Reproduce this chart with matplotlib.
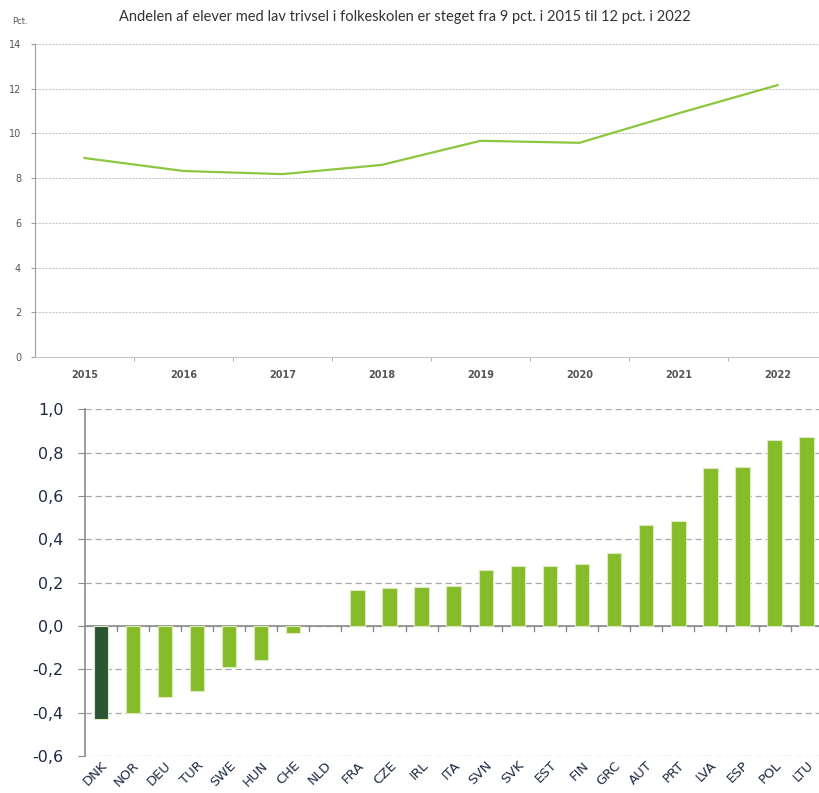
import matplotlib
matplotlib.use("Agg")
import matplotlib.pyplot as plt
from matplotlib.ticker import FuncFormatter

years = ["2015", "2016", "2017", "2018", "2019", "2020", "2021", "2022"]
share_low_wellbeing = [8.9, 8.32, 8.18, 8.59, 9.67, 9.58, 10.9, 12.16]

countries = ["DNK", "NOR", "DEU", "TUR", "SWE", "HUN", "CHE", "NLD", "FRA", "CZE",
             "IRL", "ITA", "SVN", "SVK", "EST", "FIN", "GRC", "AUT", "PRT", "LVA",
             "ESP", "POL", "LTU"]
change = [-0.43, -0.403, -0.326, -0.30, -0.19, -0.157, -0.032, 0.0, 0.165, 0.177,
          0.18, 0.185, 0.257, 0.278, 0.278, 0.288, 0.335, 0.466, 0.483, 0.728,
          0.735, 0.857, 0.871]

title = "Andelen af elever med lav trivsel i folkeskolen er steget fra 9 pct. i 2015 til 12 pct. i 2022"

W, H = 819, 793
fig = plt.figure(figsize=(W / 100, H / 100), dpi=100)

# ---------- top line chart ----------
ax1 = fig.add_axes([35 / W, 1 - 357 / H, (827 - 35) / W, (357 - 44) / H])
x = list(range(len(years)))
ax1.plot(x, share_low_wellbeing, color="#8cc63e", lw=1.6, solid_joinstyle="round")
ax1.set_xlim(-0.5, len(years) - 0.5)
ax1.set_ylim(0, 14)
ax1.set_yticks(range(0, 15, 2))
ax1.set_xticks(x)
ax1.set_xticklabels(years)
ax1.set_xticks([i + 0.5 for i in range(len(years) - 1)], minor=True)
ax1.grid(axis="y", color="#c8c8c8", ls=(0, (2, 1)), lw=0.8)
ax1.set_axisbelow(True)
for s in ["top", "right"]:
    ax1.spines[s].set_visible(False)
ax1.spines["left"].set_color("#a0a0a0")
ax1.spines["bottom"].set_color("#c8c8c8")
ax1.tick_params(axis="x", which="major", length=0, pad=9, labelsize=7, labelcolor="#555555")
ax1.tick_params(axis="x", which="minor", length=3, color="#a0a0a0", direction="out")
ax1.tick_params(axis="y", length=3, color="#a0a0a0", labelsize=7, labelcolor="#555555", pad=7)
for lab in ax1.get_xticklabels():
    lab.set_fontweight("bold")
fig.text(12 / W, 1 - 22 / H, "Pct.", fontsize=6, color="#555555", ha="left", va="center")
fig.text(405 / W, 1 - 17 / H, title, fontsize=10.5, color="#333333", ha="center", va="center",
         family="Lato")

# ---------- bottom bar chart ----------
ax2 = fig.add_axes([84.7 / W, 1 - 756 / H, (822.7 - 84.7) / W, (756 - 409.3) / H])
xb = list(range(len(countries)))
colors = ["#2c5434" if c == "DNK" else "#86bc29" for c in countries]
edges = [0 if v == 0 else 0.8 for v in change]
ax2.bar(xb, change, width=0.45, color=colors, edgecolor="#d9ecc0", linewidth=edges, zorder=3)
ax2.set_xlim(-0.5, len(countries) - 0.5)
ax2.set_ylim(-0.6, 1.0)
ax2.set_yticks([-0.6, -0.4, -0.2, 0.0, 0.2, 0.4, 0.6, 0.8, 1.0])
ax2.yaxis.set_major_formatter(FuncFormatter(lambda v, p: f"{v:.1f}".replace(".", ",").replace("-0,0", "0,0")))
ax2.grid(axis="y", color="#a8a8a8", ls=(0, (5, 3)), lw=0.9)
ax2.set_axisbelow(True)
for s in ["top", "right", "bottom"]:
    ax2.spines[s].set_visible(False)
ax2.spines["left"].set_color("#8a8a8a")
ax2.spines["left"].set_linewidth(1.2)
ax2.axhline(0, color="#8a8a8a", lw=1.2, zorder=2)
for i in range(len(countries) - 1):
    ax2.plot([i + 0.5, i + 0.5], [0, -0.022], color="#8a8a8a", lw=1.0, zorder=2)
ax2.tick_params(axis="y", length=5, color="#8a8a8a", labelsize=11.5, labelcolor="#1f2a44", pad=10)
ax2.set_xticks(xb)
ax2.set_xticklabels(countries, rotation=45, ha="right", rotation_mode="anchor",
                    fontsize=9.5, color="#1f2a44")
ax2.tick_params(axis="x", length=0, pad=2)

fig.savefig("out.png", dpi=100)
